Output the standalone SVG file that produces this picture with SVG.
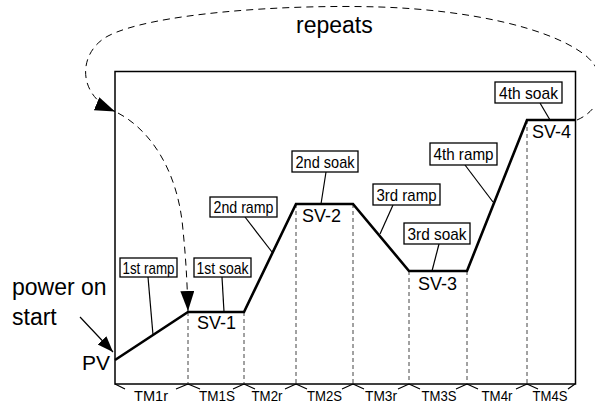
<svg xmlns="http://www.w3.org/2000/svg" width="595" height="404" viewBox="0 0 595 404">
<style>
text{font-family:"Liberation Sans",Arial,sans-serif;fill:#000}
.big{font-size:23px}
.sv{font-size:18px}
.lbl{font-size:17px;text-anchor:middle}
.tm{font-size:15px;text-anchor:middle}
.box{fill:#fff;stroke:#000;stroke-width:1.3}
.lead{stroke:#000;stroke-width:1.2;fill:none}
.vdash{stroke:#444;stroke-width:1;stroke-dasharray:4 3;fill:none}
.loop{stroke:#000;stroke-width:1;stroke-dasharray:7 5;fill:none}
</style>
<defs>
<marker id="ah" markerUnits="userSpaceOnUse" markerWidth="22" markerHeight="16" refX="20" refY="7" orient="auto">
<path d="M0,0 L20,7 L0,14 Z" fill="#000"/>
</marker>
<marker id="ah2" markerUnits="userSpaceOnUse" markerWidth="18" markerHeight="14" refX="16" refY="6" orient="auto">
<path d="M0,0 L16,6 L0,12 Z" fill="#000"/>
</marker>
</defs>

<g id="frame">
<rect x="115" y="71.5" width="460.5" height="312.5" fill="none" stroke="#000" stroke-width="1.5"/>
</g>

<g id="guides">
<line class="vdash" x1="188" y1="312" x2="188" y2="384"/>
<line class="vdash" x1="244" y1="312" x2="244" y2="384"/>
<line class="vdash" x1="296" y1="204" x2="296" y2="384"/>
<line class="vdash" x1="353" y1="204" x2="353" y2="384"/>
<line class="vdash" x1="409" y1="271" x2="409" y2="384"/>
<line class="vdash" x1="467" y1="271" x2="467" y2="384"/>
<line class="vdash" x1="527" y1="120" x2="527" y2="384"/>
</g>

<g id="profile">
<polyline points="115,360 188,312 244,312 296,204 353,204 409,271 467,271 527,120 575,120" fill="none" stroke="#000" stroke-width="2.6" stroke-linejoin="miter"/>
</g>

<g id="timeline" stroke="#000" stroke-width="1.2" fill="none">
<path d="M115,384 L125,389 M188,384 L176,389 M188,384 L200,389 M244,384 L233,389 M244,384 L255,389 M296,384 L285,389 M296,384 L307,389 M353,384 L342,389 M353,384 L364,389 M409,384 L398,389 M409,384 L420,389 M467,384 L456,389 M467,384 L478,389 M527,384 L516,389 M527,384 L538,389 M575,384 L568,389"/>
</g>
<g id="timeline-labels">
<text class="tm" x="151" y="401" textLength="34" lengthAdjust="spacingAndGlyphs">TM1r</text>
<text class="tm" x="217" y="401" textLength="36" lengthAdjust="spacingAndGlyphs">TM1S</text>
<text class="tm" x="267" y="401" textLength="31" lengthAdjust="spacingAndGlyphs">TM2r</text>
<text class="tm" x="324.5" y="401" textLength="35" lengthAdjust="spacingAndGlyphs">TM2S</text>
<text class="tm" x="381" y="401" textLength="32" lengthAdjust="spacingAndGlyphs">TM3r</text>
<text class="tm" x="439" y="401" textLength="35" lengthAdjust="spacingAndGlyphs">TM3S</text>
<text class="tm" x="497" y="401" textLength="31" lengthAdjust="spacingAndGlyphs">TM4r</text>
<text class="tm" x="550" y="401" textLength="35" lengthAdjust="spacingAndGlyphs">TM4S</text>
</g>

<g id="connectors">
<path class="loop" d="M577,120 C605,108 610,75 585,55 C550,28 470,10 380,7 C280,4 150,14 108,36 C78,52 76,95 115,111.5" marker-end="url(#ah)"/>
<path class="loop" d="M118,113 C150,130 178,170 183,230 C186,260 187,280 188,311" marker-end="url(#ah)"/>
<line class="lead" x1="80" y1="317" x2="113" y2="352" marker-end="url(#ah2)"/>
<line class="lead" x1="148" y1="277" x2="153" y2="335"/>
<line class="lead" x1="222" y1="277" x2="224" y2="312"/>
<line class="lead" x1="245" y1="217" x2="272" y2="252"/>
<line class="lead" x1="326" y1="172" x2="321" y2="204"/>
<line class="lead" x1="393" y1="205" x2="380" y2="234"/>
<line class="lead" x1="439" y1="244" x2="432" y2="271"/>
<line class="lead" x1="465" y1="165" x2="493" y2="202"/>
<line class="lead" x1="540" y1="103" x2="550" y2="120"/>
</g>

<g id="repeats"><text class="big" x="296" y="33">repeats</text></g>
<g id="power-on"><text class="big" x="12" y="295">power on</text><text class="big" x="12" y="325">start</text></g>
<g id="pv"><text x="110" y="370" font-size="21" text-anchor="end">PV</text></g>

<g id="sv1"><text class="sv" x="197" y="329">SV-1</text></g>
<g id="sv2"><text class="sv" x="302" y="222">SV-2</text></g>
<g id="sv3"><text class="sv" x="418" y="290">SV-3</text></g>
<g id="sv4"><text class="sv" x="532" y="138">SV-4</text></g>

<g id="ramp1"><rect class="box" x="120" y="258" width="57" height="19"/><text class="lbl" x="148.5" y="273.5" textLength="52" lengthAdjust="spacingAndGlyphs">1st ramp</text></g>
<g id="soak1"><rect class="box" x="194" y="258" width="57" height="19"/><text class="lbl" x="222.5" y="273.5" textLength="52" lengthAdjust="spacingAndGlyphs">1st soak</text></g>
<g id="ramp2"><rect class="box" x="210" y="197" width="67" height="20"/><text class="lbl" x="243.5" y="213" textLength="60" lengthAdjust="spacingAndGlyphs">2nd ramp</text></g>
<g id="soak2"><rect class="box" x="292" y="151" width="66" height="21"/><text class="lbl" x="325" y="167.5" textLength="59" lengthAdjust="spacingAndGlyphs">2nd soak</text></g>
<g id="ramp3"><rect class="box" x="373" y="184" width="67" height="21"/><text class="lbl" x="406.5" y="200.5" textLength="60" lengthAdjust="spacingAndGlyphs">3rd ramp</text></g>
<g id="soak3"><rect class="box" x="404" y="223" width="66" height="21"/><text class="lbl" x="437" y="239.5" textLength="59" lengthAdjust="spacingAndGlyphs">3rd soak</text></g>
<g id="ramp4"><rect class="box" x="430" y="143" width="67" height="22"/><text class="lbl" x="463.5" y="160" textLength="60" lengthAdjust="spacingAndGlyphs">4th ramp</text></g>
<g id="soak4"><rect class="box" x="495" y="82" width="67" height="21"/><text class="lbl" x="528.5" y="98.5" textLength="59" lengthAdjust="spacingAndGlyphs">4th soak</text></g>
</svg>
